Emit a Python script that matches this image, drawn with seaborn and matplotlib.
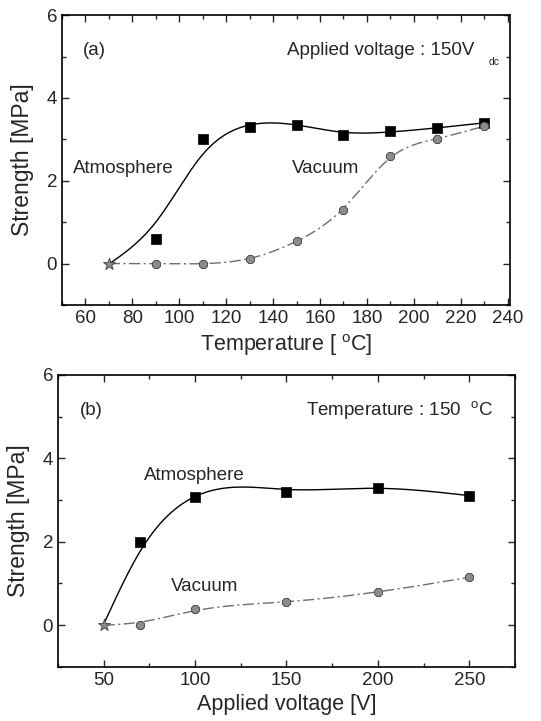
import numpy as np
import pandas as pd
import matplotlib
matplotlib.use("Agg")
import matplotlib.pyplot as plt
from matplotlib.ticker import MultipleLocator
import seaborn as sns

# --- data ---
temp = [70, 90, 110, 130, 150, 170, 190, 210, 230]
temp_atm = [0.0, 0.6, 3.0, 3.3, 3.35, 3.1, 3.2, 3.28, 3.4]
temp_vac = [0.0, 0.0, 0.0, 0.12, 0.55, 1.3, 2.6, 3.0, 3.32]

volt = [50, 70, 100, 150, 200, 250]
volt_atm = [0.0, 2.0, 3.07, 3.2, 3.3, 3.1]
volt_vac = [0.0, 0.0, 0.4, 0.55, 0.8, 1.15]


def smooth_curve(x, y, lam, n=300):
    # penalised least squares (smoothing spline on a fine grid)
    x = np.asarray(x, float)
    y = np.asarray(y, float)
    xs = np.linspace(x[0], x[-1], n)
    B = np.zeros((len(x), n))
    for i, xi in enumerate(x):
        j = min(np.searchsorted(xs, xi), n - 1)
        if j == 0:
            B[i, 0] = 1
            continue
        t = (xi - xs[j - 1]) / (xs[j] - xs[j - 1])
        B[i, j - 1] = 1 - t
        B[i, j] = t
    # pin the first point a bit harder
    B[0] *= 3
    y = y.copy()
    y[0] *= 3
    D = np.diff(np.eye(n), 2, axis=0)
    f = np.linalg.solve(B.T @ B + lam * D.T @ D, B.T @ y)
    return pd.DataFrame({"x": xs, "y": f})


sns.set_style("ticks")
plt.rcParams["font.family"] = ["Liberation Sans", "DejaVu Sans"]
plt.rcParams["mathtext.fontset"] = "custom"
plt.rcParams["mathtext.rm"] = "Liberation Sans"
plt.rcParams["mathtext.it"] = "Liberation Sans"

fig = plt.figure(figsize=(5.41, 7.21), dpi=100)
ax1 = fig.add_axes([0.1146, 0.577, 0.828, 0.402])
ax2 = fig.add_axes([0.107, 0.075, 0.845, 0.405])

vac_col = "#6e6e6e"


def draw_panel(ax, x, atm, vac, lam_atm, lam_vac):
    ca = smooth_curve(x, atm, lam_atm)
    cv = smooth_curve(x, vac, lam_vac)
    sns.lineplot(data=ca, x="x", y="y", ax=ax, color="black", lw=1.0)
    sns.lineplot(data=cv, x="x", y="y", ax=ax, color=vac_col, lw=1.0)
    ax.lines[-1].set_dashes([8, 2.5, 1.5, 2.5])
    sns.scatterplot(x=x[1:], y=atm[1:], ax=ax, marker="s", color="black",
                    s=48, edgecolor="black", linewidth=0.5, zorder=5)
    sns.scatterplot(x=x[1:], y=vac[1:], ax=ax, marker="8", color="#8c8c8c",
                    s=40, edgecolor="#4d4d4d", linewidth=0.7, zorder=5)
    sns.scatterplot(x=x[:1], y=vac[:1], ax=ax, marker="*", color="#8c8c8c",
                    s=80, edgecolor="#4d4d4d", linewidth=0.7, zorder=5)
    ax.set_ylim(-1, 6)
    ax.yaxis.set_major_locator(MultipleLocator(2))
    ax.yaxis.set_minor_locator(MultipleLocator(1))
    ax.tick_params(which="both", direction="in", top=True, right=True,
                   labelsize=13.5, width=1)
    ax.tick_params(which="major", length=5)
    ax.tick_params(which="minor", length=3)
    for s in ax.spines.values():
        s.set_linewidth(1.2)
        s.set_color("black")
    ax.set_ylabel("Strength [MPa]", fontsize=16.5, labelpad=9)


draw_panel(ax1, temp, temp_atm, temp_vac, 5000.0, 600.0)
ax1.set_xlim(50, 241)
ax1.xaxis.set_major_locator(MultipleLocator(20))
ax1.xaxis.set_minor_locator(MultipleLocator(10))
ax1.set_xlabel("Temperature [ $^{\\rm o}$C]", fontsize=15.5)
ax1.text(59, 5.15, "(a)", fontsize=13.5, va="center")
ax1.text(226, 5.15, "Applied voltage : 150V", fontsize=13.5, va="center", ha="right")
ax1.text(232, 4.88, "dc", fontsize=7.5, va="center")
ax1.text(54.5, 2.3, "Atmosphere", fontsize=13.5, va="center")
ax1.text(148, 2.3, "Vacuum", fontsize=13.5, va="center")

draw_panel(ax2, volt, volt_atm, volt_vac, 5000.0, 6000.0)
ax2.set_xlim(25, 275)
ax2.xaxis.set_major_locator(MultipleLocator(50))
ax2.xaxis.set_minor_locator(MultipleLocator(25))
ax2.set_xlabel("Applied voltage [V]", fontsize=15.5)
ax2.text(37, 5.15, "(b)", fontsize=13.5, va="center")
ax2.text(263, 5.15, "Temperature : 150  $^{\\rm o}$C", fontsize=13.5, va="center", ha="right")
ax2.text(72, 3.6, "Atmosphere", fontsize=13.5, va="center")
ax2.text(87, 0.92, "Vacuum", fontsize=13.5, va="center")

fig.savefig("out.png", dpi=100)
